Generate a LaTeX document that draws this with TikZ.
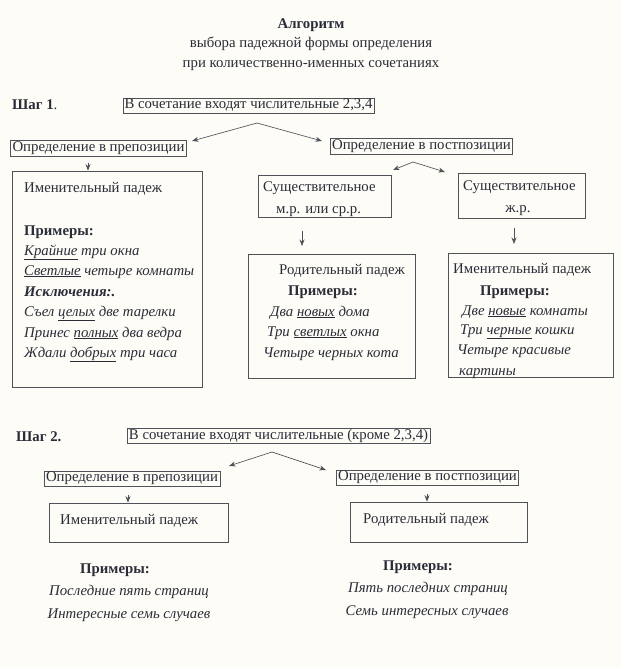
\documentclass[tikz,border=0pt]{standalone}
\usepackage{fontspec}
\setmainfont{Liberation Serif}
\usetikzlibrary{arrows.meta}
\definecolor{bg}{HTML}{FDFCF7}
\definecolor{ink}{HTML}{2A2C38}
\definecolor{edge}{HTML}{505259}
\begin{document}
\begin{tikzpicture}[x=1pt,y=-1pt,
  font=\fontsize{14.8}{17}\selectfont, text=ink,
  box/.style={draw=edge, line width=0.75pt, inner sep=0pt, rectangle},
  txt/.style={anchor=base west, inner sep=0pt},
  ctxt/.style={anchor=base, inner sep=0pt},
  arr/.style={draw=edge, line width=0.65pt, -{Stealth[length=6.5pt,width=5pt]}}]
\fill[bg] (0,0) rectangle (621,668);
\useasboundingbox (0,0) rectangle (621,668);
% title
\node[ctxt, font=\bfseries\fontsize{14.8}{17}\selectfont] (t1) at (311,29) {Алгоритм};
\node[ctxt] (t2) at (311,48) {выбора падежной формы определения};
\node[ctxt] (t3) at (311,68) {при количественно-именных сочетаниях};
% step 1
\node[txt] (sh1) at (12,110) {\textbf{Шаг 1}.};
\node[box, minimum width=251pt, minimum height=15pt] (s1) at (248.5,105.5) {В сочетание входят числительные 2,3,4};
\coordinate (ap1) at (257,123);
\coordinate (ap1l) at (192,141);
\coordinate (ap1r) at (322,141);
\draw[arr] (ap1) -- (ap1l);
\draw[arr] (ap1) -- (ap1r);
\node[box, minimum width=176pt, minimum height=16pt] (pre1) at (98.5,148) {Определение в препозиции};
\node[box, minimum width=182pt, minimum height=16pt] (post1) at (421.5,146) {Определение в постпозиции};
% left big box
\node[box, minimum width=190pt, minimum height=216pt] (lb) at (107,279) {};
\coordinate (a1s) at (88,163);
\draw[arr] (a1s) -- (a1s |- lb.north);
\node[txt] (lb1) at (24,193) {Именительный падеж};
\node[txt] (lb2) at (24,235) {\textbf{Примеры:}};
\node[txt] (lb3) at (24,255) {\itshape\underline{Крайние} три окна};
\node[txt] (lb4) at (24,275) {\itshape\underline{Светлые} четыре комнаты};
\node[txt] (lb5) at (24,296) {\bfseries\itshape Исключения:.};
\node[txt] (lb6) at (24,316) {\itshape Съел \underline{целых} две тарелки};
\node[txt] (lb7) at (24,337) {\itshape Принес \underline{полных} два ведра};
\node[txt] (lb8) at (24,357) {\itshape Ждали \underline{добрых} три часа};
% postposition split
\coordinate (ap2) at (413,162);
\coordinate (ap2l) at (393,170);
\coordinate (ap2r) at (445,172);
\draw[arr] (ap2) -- (ap2l);
\draw[arr] (ap2) -- (ap2r);
\node[box, minimum width=133pt, minimum height=42pt] (n1) at (324.5,196) {};
\node[txt] (n1a) at (263,192) {Существительное};
\node[txt] (n1b) at (276,214) {м.р. или ср.р.};
\node[box, minimum width=127pt, minimum height=45pt] (n2) at (521.5,195.5) {};
\node[txt] (n2a) at (463,191) {Существительное};
\node[ctxt] (n2b) at (518,212) {ж.р.};
\node[box, minimum width=167pt, minimum height=124pt] (rb) at (331.5,316) {};
\node[box, minimum width=165pt, minimum height=124pt] (ib) at (530.5,315) {};
\coordinate (a2s) at (302,231);
\coordinate (a2e) at (302,246);
\coordinate (a3s) at (514,228);
\coordinate (a3e) at (514,244);
\draw[arr] (a2s) -- (a2e);
\draw[arr] (a3s) -- (a3e);
\node[txt] (rb1) at (279,274) {Родительный падеж};
\node[txt] (rb2) at (288,295) {\textbf{Примеры:}};
\node[txt] (rb3) at (270,316) {\itshape Два \underline{новых} дома};
\node[txt] (rb4) at (267,336) {\itshape Три \underline{светлых} окна};
\node[txt] (rb5) at (263,357) {\itshape Четыре черных кота};
\node[txt] (ib1) at (453,273) {Именительный падеж};
\node[txt] (ib2) at (480,295) {\textbf{Примеры:}};
\node[txt] (ib3) at (462,315) {\itshape Две \underline{новые} комнаты};
\node[txt] (ib4) at (460,334) {\itshape Три \underline{черные} кошки};
\node[txt] (ib5) at (457,354) {\itshape Четыре красивые};
\node[txt] (ib6) at (459,375) {\itshape картины};
% step 2
\node[txt] (sh2) at (16,441) {\textbf{Шаг 2.}};
\node[box, minimum width=303pt, minimum height=15pt] (s2) at (278.5,435.5) {В сочетание входят числительные (кроме 2,3,4)};
\coordinate (ap3) at (272,452);
\coordinate (ap3l) at (229,466);
\coordinate (ap3r) at (326,470);
\draw[arr] (ap3) -- (ap3l);
\draw[arr] (ap3) -- (ap3r);
\node[box, minimum width=176pt, minimum height=15pt] (pre2) at (132,478.5) {Определение в препозиции};
\node[box, minimum width=182pt, minimum height=15pt] (post2) at (427.5,477.5) {Определение в постпозиции};
\node[box, minimum width=179pt, minimum height=39pt] (im2) at (138.5,522.5) {};
\node[box, minimum width=177pt, minimum height=40pt] (rd2) at (438.5,522) {};
\coordinate (a4s) at (128,495);
\coordinate (a5s) at (427,494);
\draw[arr] (a4s) -- (a4s |- im2.north);
\draw[arr] (a5s) -- (a5s |- rd2.north);
\node[txt] (im2t) at (60,524) {Именительный падеж};
\node[txt] (rd2t) at (363,523) {Родительный падеж};
\node[ctxt] (ex1) at (115,573) {\textbf{Примеры:}};
\node[ctxt] (ex1a) at (129,595) {\itshape Последние пять страниц};
\node[ctxt] (ex1b) at (129,618) {\itshape Интересные семь случаев};
\node[ctxt] (ex2) at (418,570) {\textbf{Примеры:}};
\node[ctxt] (ex2a) at (428,592) {\itshape Пять последних страниц};
\node[ctxt] (ex2b) at (427,615) {\itshape Семь интересных случаев};
\end{tikzpicture}
\end{document}
